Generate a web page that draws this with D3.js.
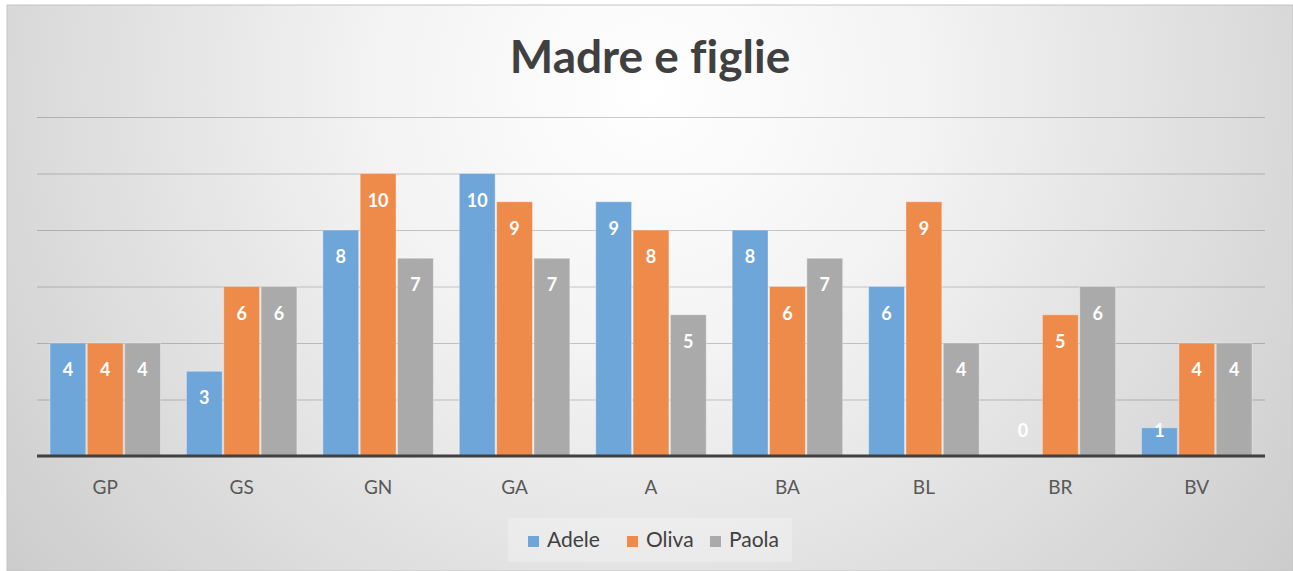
<!DOCTYPE html>
<html>
<head>
<meta charset="utf-8">
<script src="https://cdn.jsdelivr.net/npm/d3@7"></script>
<style>
  body { margin: 0; background: #fff; }
  #chart-area text { font-family: Lato, "Open Sans", sans-serif; font-variant-ligatures: none; }
</style>
</head>
<body>
<div id="chart-area"></div>
<script>
const categories = ["GP", "GS", "GN", "GA", "A", "BA", "BL", "BR", "BV"]
const seriesNames = ["Adele", "Oliva", "Paola"]
const adele = [4, 3, 8, 10, 9, 8, 6, 0, 1]
const oliva = [4, 6, 10, 9, 8, 6, 9, 5, 4]
const paola = [4, 6, 7, 7, 5, 7, 4, 6, 4]
const gridTicks = [2, 4, 6, 8, 10, 12]
const colors = ["#6EA6DA", "#EE8B4B", "#AAAAAA"]

const w = 1293
const h = 571
const values = [adele, oliva, paola]

const svg = d3.select("#chart-area")
  .append("svg")
  .attr("width", w)
  .attr("height", h)

// background gradient
const defs = svg.append("defs")
const grad = defs.append("radialGradient")
  .attr("id", "bg")
  .attr("cx", "50%").attr("cy", "15%")
  .attr("r", "72%")
  .attr("gradientTransform", "translate(0.5,0.15) scale(1,2.2) translate(-0.5,-0.15)")
grad.append("stop").attr("offset", "0").attr("stop-color", "#ffffff")
grad.append("stop").attr("offset", "0.3").attr("stop-color", "#f3f3f3")
grad.append("stop").attr("offset", "1").attr("stop-color", "#c4c4c4")

svg.append("rect")
  .attr("x", 7).attr("y", 5)
  .attr("width", w - 7).attr("height", h - 5)
  .attr("fill", "url(#bg)")
  .attr("stroke", "#c4c4c4")

const plotLeft = 37, plotRight = 1265, plotTop = 117, base = 456

const x = d3.scaleBand()
  .domain(categories)
  .range([plotLeft, plotRight])
  .paddingInner(0.19)
  .paddingOuter(0.095)

const xs = d3.scaleBand()
  .domain(seriesNames)
  .range([0, x.bandwidth()])
  .paddingInner(0.04)

const y = d3.scaleLinear()
  .domain([0, 12])
  .range([base, plotTop])

// gridlines
const grid = svg.append("g")
  .attr("transform", "translate(" + plotLeft + ",0)")
  .call(d3.axisLeft(y).tickValues(gridTicks).tickSize(-(plotRight - plotLeft)).tickFormat(""))
grid.select(".domain").remove()
grid.selectAll("line").attr("stroke", "rgba(0,0,0,0.2)").attr("stroke-width", 1.2)

// title
svg.append("text")
  .attr("x", 650)
  .attr("y", 73)
  .attr("text-anchor", "middle")
  .attr("font-size", 46)
  .attr("font-weight", "bold")
  .attr("fill", "#404040")
  .text("Madre e figlie")

const rows = categories.map((c, i) => ({ cat: c, vals: seriesNames.map((s, j) => ({ s: s, j: j, v: values[j][i] })) }))

const groups = svg.selectAll("g.group")
  .data(rows)
  .enter()
  .append("g")
  .attr("class", "group")
  .attr("transform", (d) => "translate(" + x(d.cat) + ",0)")

groups.selectAll("rect")
  .data((d) => d.vals)
  .enter()
  .append("rect")
  .attr("x", (d) => xs(d.s))
  .attr("y", (d) => y(d.v))
  .attr("width", xs.bandwidth())
  .attr("height", (d) => base - y(d.v))
  .attr("fill", (d) => colors[d.j])
  .attr("stroke", "rgba(255,255,255,0.35)")
  .attr("stroke-width", 1)

groups.selectAll("text")
  .data((d) => d.vals)
  .enter()
  .append("text")
  .attr("x", (d) => xs(d.s) + xs.bandwidth() / 2)
  .attr("y", (d) => Math.min(y(d.v) + 27, base - 25) + 6)
  .attr("text-anchor", "middle")
  .attr("font-size", 18)
  .attr("font-weight", "bold")
  .attr("fill", "#ffffff")
  .text((d) => d.v)

// baseline
svg.append("line")
  .attr("x1", plotLeft).attr("x2", plotRight)
  .attr("y1", base).attr("y2", base)
  .attr("stroke", "#404040")
  .attr("stroke-width", 3)

// category axis
const xAxis = svg.append("g")
  .attr("transform", "translate(0," + base + ")")
  .call(d3.axisBottom(x).tickSize(0).tickPadding(25))
xAxis.select(".domain").remove()
xAxis.selectAll("text")
  .attr("font-size", 19)
  .attr("fill", "#595959")
  .style("font-family", "Lato, 'Open Sans', sans-serif")

// legend
const legend = svg.append("g")
legend.append("rect")
  .attr("x", 508).attr("y", 518)
  .attr("width", 284).attr("height", 44)
  .attr("fill", "rgba(255,255,255,0.25)")

const legendX = [528, 627, 710]
const item = legend.selectAll("g.legend-item")
  .data(seriesNames)
  .enter()
  .append("g")
  .attr("class", "legend-item")
  .attr("transform", (d, i) => "translate(" + legendX[i] + ",536)")
item.append("rect")
  .attr("width", 11).attr("height", 11)
  .attr("fill", (d, i) => colors[i])
item.append("text")
  .attr("x", 19)
  .attr("y", 11)
  .attr("font-size", 21)
  .attr("fill", "#404040")
  .text((d) => d)
</script>
</body>
</html>
